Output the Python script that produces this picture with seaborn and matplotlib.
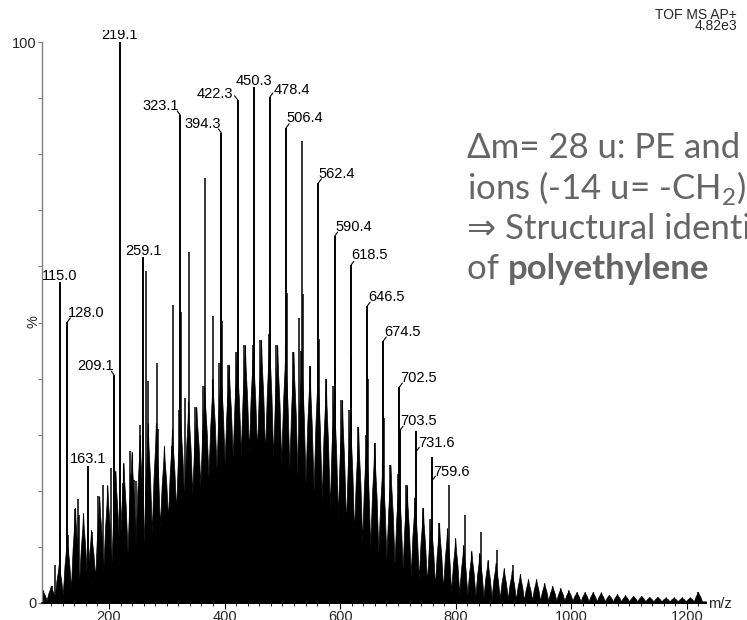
import numpy as np
import pandas as pd
import matplotlib
matplotlib.use("Agg")
import matplotlib.pyplot as plt
import matplotlib.transforms as mtransforms
import seaborn as sns

# ---------------------------------------------------------------
# Spectrum data (m/z, relative intensity in %)
# ---------------------------------------------------------------
label_mz = [115.0, 128.0, 163.1, 209.1, 219.1, 259.1, 323.1, 394.3, 422.3,
            450.3, 478.4, 506.4, 562.4, 590.4, 618.5, 646.5, 674.5, 702.5,
            703.5, 731.6, 759.6]
label_int = [57.2, 50.1, 24.4, 40.6, 100.0, 61.7, 87.0, 83.8, 89.7,
             92.0, 90.2, 84.7, 74.9, 65.4, 60.2, 52.9, 46.7, 38.5,
             30.8, 30.6, 26.0]

# further resolved peaks standing above the cluster envelope
peak_mz = [100.6, 106.0, 116.0, 129.5, 141.0, 145.7, 148.0, 170.0, 180.5,
           190.0, 203.0, 224.0, 236.4, 237.6, 243.3, 247.4, 253.8, 263.1,
           267.1, 282.2, 285.0, 293.7, 308.8, 310.2, 321.5, 325.1, 331.0,
           338.2, 348.0, 363.0, 366.3, 379.3, 391.0, 395.3, 405.0, 420.0,
           423.3, 434.0, 448.6, 451.3, 462.0, 476.4, 479.4, 489.0, 507.4,
           518.0, 528.0, 532.0, 534.4, 535.4, 547.0, 561.0, 563.4, 574.7,
           588.0, 591.4, 602.0, 616.0, 619.5, 631.0, 645.0, 647.5, 660.0,
           675.5, 685.7, 700.0, 714.6, 729.0, 743.0, 756.0, 771.0, 787.6,
           815.7, 843.7, 871.8, 899.8, 1220.0]
peak_int = [3.0, 6.8, 12.7, 12.1, 16.7, 18.6, 15.6, 12.7, 19.0,
            21.0, 24.0, 21.4, 27.1, 23.0, 22.0, 21.7, 31.7, 59.2,
            39.5, 42.8, 31.0, 21.4, 28.0, 53.1, 34.4, 51.9, 36.5,
            62.6, 35.0, 38.6, 75.7, 51.2, 42.7, 50.3, 42.5, 44.8,
            54.0, 46.0, 46.0, 57.0, 46.9, 48.0, 55.5, 46.0, 55.2,
            44.8, 50.8, 45.0, 82.4, 55.0, 42.3, 42.8, 47.0, 40.0,
            38.6, 42.0, 36.2, 34.4, 43.9, 31.4, 30.0, 40.0, 28.5,
            33.0, 24.6, 23.0, 21.0, 18.7, 16.9, 15.0, 14.3, 21.0,
            15.7, 12.6, 9.4, 6.8, 2.0]

# -CH2- clusters: centre m/z, cluster apex and the valley on the low-mass side
cluster_mz = [85, 99, 113, 127, 141, 155, 169, 183, 197, 211, 225, 239, 253,
              267, 281, 295, 309, 323, 337, 351, 365, 379, 393, 407, 421, 435,
              449, 463, 477, 491, 505, 519, 533, 547, 561, 575, 589, 603, 617,
              631, 645, 659, 673, 687, 701, 715, 729, 743, 757, 771, 785, 799,
              813, 827, 841, 855, 869, 883, 897, 911, 925, 939, 953, 967, 981,
              995, 1009, 1023, 1037, 1051, 1065, 1079, 1093, 1107, 1121, 1135,
              1149, 1163, 1177, 1191, 1205, 1219]
cluster_top = [2.3, 3.0, 7.0, 12.0, 17.0, 16.0, 13.0, 19.0, 21.0, 23.6, 25.0,
               27.0, 30.0, 32.0, 32.0, 28.0, 31.0, 34.0, 36.0, 35.0, 38.6,
               40.0, 42.7, 42.5, 44.8, 46.0, 46.0, 46.9, 48.0, 46.0, 46.0,
               44.8, 45.0, 42.3, 42.8, 40.0, 38.6, 36.2, 34.4, 31.4, 30.0,
               28.5, 25.5, 24.6, 23.0, 21.0, 19.0, 17.0, 15.0, 14.2, 13.3,
               11.6, 10.3, 9.3, 8.9, 7.7, 7.2, 6.2, 5.8, 5.2, 4.3, 4.3, 3.6,
               3.1, 2.7, 2.3, 2.0, 2.0, 2.0, 1.9, 1.5, 1.6, 1.4, 1.3, 1.3,
               1.1, 1.1, 1.0, 1.0, 1.0, 1.0, 2.0]
cluster_floor = [0.3, 0.5, 1.0, 1.5, 2.5, 3.0, 3.5, 4.5, 5.5, 6.5, 7.5, 9.0,
                 10.0, 11.0, 12.5, 13.5, 15.0, 16.5, 18.0, 19.5, 21.0, 22.5,
                 24.0, 25.0, 26.0, 26.5, 27.0, 27.0, 26.5, 26.0, 25.0, 24.0,
                 23.0, 21.5, 20.0, 18.5, 17.0, 15.5, 14.0, 12.5, 11.0, 10.0,
                 9.0, 8.0, 7.0, 6.0, 5.0, 4.3, 3.6, 3.0, 2.5, 2.0, 1.7, 1.4,
                 1.2, 1.0, 0.9, 0.8, 0.7, 0.6, 0.5, 0.5, 0.4, 0.4, 0.4, 0.4,
                 0.4, 0.3, 0.3, 0.3, 0.3, 0.3, 0.3, 0.3, 0.3, 0.3, 0.3, 0.3,
                 0.3, 0.3, 0.3, 0.3]

x_ticks = [200, 400, 600, 800, 1000, 1200]

# label placement: text offset (dx, dy) in pixels from the leader anchor,
# and how far below the peak top the leader attaches
label_style = {
    115.0: (0, 2, 0), 128.0: (19, 5, 0), 163.1: (0, 3, 0),
    209.1: (-19, 5, 0), 219.1: (-1, 3, 0), 259.1: (0, 2, 0),
    323.1: (-19, 5, 0), 394.3: (-19, 5, 0), 422.3: (-23, 2, 0),
    450.3: (0, 2, 0), 478.4: (22, 3, 0), 506.4: (19, 6, 0),
    562.4: (18, 5, 0), 590.4: (19, 5, 0), 618.5: (19, 6, 0),
    646.5: (19, 5, 0), 674.5: (19, 5, 0), 702.5: (19, 5, 0),
    703.5: (19, 5, 0), 731.6: (20, 4, 20), 759.6: (19, 4, 23),
}

# ---------------------------------------------------------------
sns.set_style("white")
plt.rcParams["font.family"] = ["Liberation Sans", "DejaVu Sans"]
plt.rcParams["mathtext.fontset"] = "custom"
plt.rcParams["mathtext.rm"] = "Lato"

W, H = 747, 620
fig = plt.figure(figsize=(W / 100, H / 100), dpi=100)
ax = fig.add_axes([42 / W, 17 / H, 664 / W, 561 / H])

xmin, xmax = 84, 1233

# cluster envelope: each cluster is a spike rising from its valleys
env = pd.DataFrame({"mz": cluster_mz, "top": cluster_top,
                    "floor": cluster_floor})
env["next_floor"] = env["floor"].shift(-1).fillna(env["floor"].iloc[-1])
xs, ys = [xmin], [0.3]
for c, t, f, g in env[["mz", "top", "floor", "next_floor"]].itertuples(
        index=False):
    xs += [c - 7, c - 4, c - 1.2, c, c + 1.2, c + 4]
    ys += [f, f + 0.5 * (t - f), f + 0.8 * (t - f), t,
           g + 0.8 * (t - g), g + 0.5 * (t - g)]
xs += [cluster_mz[-1] + 7, xmax]
ys += [cluster_floor[-1], 0.3]
ax.fill_between(xs, ys, 0, color="black", lw=0.5, edgecolor="black")
ax.vlines(env["mz"], 0, env["top"], color="black", lw=0.8)

# individual peaks
ax.vlines(peak_mz, 0, peak_int, color="black", lw=1.1)
ax.vlines(label_mz, 0, label_int, color="black", lw=1.4)

# the plot frame cuts the topmost label
top_clip = mtransforms.Bbox.from_extents(0, 0, W, H - 30)
for mz, inten in zip(label_mz, label_int):
    dx, dy, drop = label_style[mz]
    anchor = mtransforms.offset_copy(ax.transData, fig=fig, x=0, y=-drop,
                                     units="dots")
    txt = ax.annotate(f"{mz:.1f}", xy=(mz, inten), xycoords=anchor,
                      xytext=(dx, dy), textcoords="offset pixels",
                      ha="center", va="baseline", fontsize=10.5,
                      color="black", annotation_clip=False)
    txt.set_clip_box(top_clip)
    txt.set_clip_on(True)
    if abs(dx) > 3:
        ax.annotate("", xy=(mz, inten), xycoords=anchor,
                    xytext=(3 * np.sign(dx), 4), textcoords="offset pixels",
                    arrowprops=dict(arrowstyle="-", lw=0.8, color="black",
                                    shrinkA=0, shrinkB=0),
                    annotation_clip=False)

ax.set_xlim(xmin, xmax)
ax.set_ylim(0, 100)
sns.despine(ax=ax, top=True, right=True)
ax.spines["left"].set_color("#7f7f7f")
ax.spines["left"].set_linewidth(1.0)
ax.spines["bottom"].set_color("black")
ax.spines["bottom"].set_linewidth(1.2)

ax.set_yticks(np.arange(0, 101, 10))
ax.set_yticklabels(["0"] + [""] * 9 + ["100"])
ax.set_xticks(x_ticks)
ax.set_xticklabels([str(t) for t in x_ticks])
ax.set_xticks(np.arange(100, 1231, 20), minor=True)
ax.tick_params(axis="y", length=3, width=0.8, color="#7f7f7f", pad=1,
               labelsize=10.5, left=True, direction="out")
ax.tick_params(axis="x", which="major", length=4, width=0.8, color="black",
               pad=1, labelsize=10.5, bottom=True, direction="out")
ax.tick_params(axis="x", which="minor", length=2, width=0.6, color="black",
               bottom=True, direction="out")

fig.text(33 / W, 1 - 322 / H, "%", rotation=90, ha="center", va="center",
         fontsize=10.5)
fig.text(708 / W, 1 - 604 / H, "m/z", ha="left", va="center", fontsize=10.5)
fig.text(737 / W, 1 - 19 / H, "TOF MS AP+", ha="right", va="baseline",
         fontsize=10)
fig.text(737 / W, 1 - 30.5 / H, "4.82e3", ha="right", va="baseline",
         fontsize=10)

# note on the right-hand side
note_font = dict(fontsize=25, color="#656565",
                 family=["Lato", "DejaVu Sans"])
x0 = 467 / W
fig.text(x0, 1 - 158 / H, "\u0394m= 28 u: PE and", ha="left",
         va="baseline", **note_font)
fig.text(x0, 1 - 199 / H, "ions (-14 u= -CH$_2$)", ha="left",
         va="baseline", **note_font)
fig.text(x0, 1 - 239 / H, "\u21d2 Structural identification",
         ha="left", va="baseline", **note_font)
t_of = fig.text(x0, 1 - 279 / H, "of ", ha="left", va="baseline",
                **note_font)
ax.annotate("polyethylene", xy=(1, 0), xycoords=t_of, xytext=(0, 0),
            textcoords="offset pixels", weight="bold", ha="left",
            va="bottom", annotation_clip=False, **note_font)

fig.savefig("out.png", dpi=100)
